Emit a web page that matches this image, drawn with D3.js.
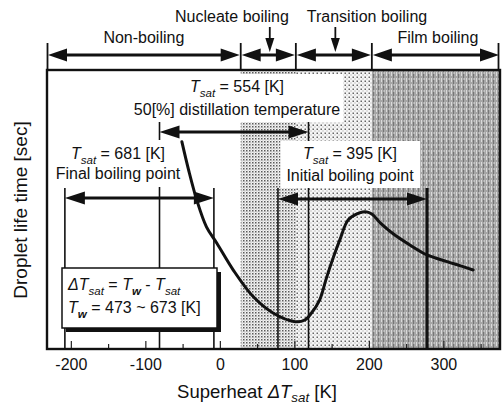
<!DOCTYPE html>
<html>
<head>
<meta charset="utf-8">
<script src="https://cdn.jsdelivr.net/npm/d3@7"></script>
<style>
  body { margin: 0; background: #fff; }
  svg { display: block; }
  text { font-family: "Liberation Sans", Arial, Helvetica, sans-serif; fill: #111; }
</style>
</head>
<body>
<svg id="chart" width="503" height="405"></svg>
<script>
// Droplet life time curve: superheat (K) and relative life time (axis carries no scale)
const superheat = [-51, -42, -31, -18, -4, 18, 45, 72, 101, 114, 123, 134, 143, 152, 161, 172, 184, 195, 204, 216, 233, 255, 278, 305, 322, 340];
const lifeTime  = [0.743, 0.642, 0.534, 0.438, 0.379, 0.283, 0.187, 0.128, 0.098, 0.104, 0.129, 0.176, 0.254, 0.326, 0.391, 0.462, 0.484, 0.492, 0.484, 0.450, 0.412, 0.373, 0.337, 0.313, 0.299, 0.283];

// Boiling regimes and their superheat boundaries (outer bounds = axis range)
const regimeNames = ["Non-boiling", "Nucleate boiling", "Transition boiling", "Film boiling"];
const regimeEdges = [-232, 28, 102, 204, 376];

// Wall temperature range and fuel saturation temperatures (K)
const wallRange = [473, 673];
const tsatValues = [554, 681, 395];
const tsatNames = ["50[%] distillation temperature", "Final boiling point", "Initial boiling point"];

// Axis ticks
const majorTicks = [-200, -100, 0, 100, 200, 300];
const minorTicks = [-150, -50, 50, 150, 250, 350];

const plot = { left: 47, right: 500, top: 70, bottom: 349 };
const FONT = 16;

const svg = d3.select("#chart");
const x = d3.scaleLinear().domain([regimeEdges[0], regimeEdges[regimeEdges.length - 1]]).range([plot.left, plot.right]);
const y = d3.scaleLinear().domain([0, 1]).range([plot.bottom, plot.top]);

// ---------- halftone fills for the regime zones ----------
const defs = svg.append("defs");
const pDense = defs.append("pattern").attr("id", "dense").attr("width", 3).attr("height", 3).attr("patternUnits", "userSpaceOnUse");
pDense.append("rect").attr("width", 3).attr("height", 3).attr("fill", "#f4f4f4");
pDense.append("rect").attr("x", 0).attr("y", 0).attr("width", 1.5).attr("height", 1.5).attr("fill", "#5a5a5a");
pDense.append("rect").attr("x", 1.5).attr("y", 1.5).attr("width", 1).attr("height", 1).attr("fill", "#a0a0a0");

const pSparse = defs.append("pattern").attr("id", "sparse").attr("width", 4).attr("height", 4).attr("patternUnits", "userSpaceOnUse");
pSparse.append("rect").attr("width", 4).attr("height", 4).attr("fill", "#f6f6f6");
pSparse.append("rect").attr("x", 0.5).attr("y", 0.5).attr("width", 1.5).attr("height", 1.5).attr("fill", "#666");
pSparse.append("rect").attr("x", 2.5).attr("y", 2.5).attr("width", 1).attr("height", 1).attr("fill", "#999");

const pDark = defs.append("pattern").attr("id", "dark").attr("width", 5).attr("height", 6).attr("patternUnits", "userSpaceOnUse");
pDark.append("rect").attr("width", 5).attr("height", 6).attr("fill", "#a6a6a6");
pDark.append("rect").attr("x", 1).attr("y", 0).attr("width", 1).attr("height", 4).attr("fill", "#dadada");
pDark.append("rect").attr("x", 3).attr("y", 2).attr("width", 1).attr("height", 4).attr("fill", "#767676");
pDark.append("rect").attr("x", 4).attr("y", 0).attr("width", 1).attr("height", 2).attr("fill", "#c4c4c4");

const zoneFills = [null, "url(#dense)", "url(#sparse)", "url(#dark)"];
svg.append("g").selectAll("rect")
  .data(regimeNames.map((n, i) => ({ n, a: regimeEdges[i], b: regimeEdges[i + 1], f: zoneFills[i] })).filter(d => d.f))
  .join("rect")
  .attr("x", d => x(d.a)).attr("width", d => x(d.b) - x(d.a))
  .attr("y", plot.top).attr("height", plot.bottom - plot.top)
  .attr("fill", d => d.f);

// ---------- ticks along the bottom, pointing inward ----------
const axisG = svg.append("g").attr("transform", `translate(0,${plot.bottom})`);
axisG.call(d3.axisBottom(x).tickValues(majorTicks).tickSizeInner(-8).tickSizeOuter(0).tickPadding(10).tickFormat(d3.format("d")));
axisG.select(".domain").remove();
axisG.selectAll(".tick line").attr("stroke", "#222").attr("stroke-width", 1.2);
axisG.selectAll(".tick text").attr("font-size", FONT).attr("fill", "#111")
  .style("font-family", '"Liberation Sans", Arial, sans-serif').text(d => d < 0 ? "-" + Math.abs(d) : d);
const minorG = svg.append("g").attr("transform", `translate(0,${plot.bottom})`);
minorG.call(d3.axisBottom(x).tickValues(minorTicks).tickSizeInner(-5).tickSizeOuter(0).tickFormat(""));
minorG.select(".domain").remove();
minorG.selectAll(".tick line").attr("stroke", "#222").attr("stroke-width", 1.2);

// ---------- helpers ----------
function richText(g, px, py, parts, size, anchor, shiftEm) {
  const t = g.append("text").attr("x", px).attr("y", py).attr("font-size", size).attr("text-anchor", anchor || "middle");
  const shift = size * (shiftEm || 0.3);
  let inSub = false;
  parts.forEach(p => {
    const s = t.append("tspan").text(p.t);
    if (p.i) s.attr("font-style", "italic");
    if (p.b) s.attr("font-weight", "bold");
    if (p.sub) s.attr("font-size", size * 0.72);
    if (p.sub && !inSub) s.attr("dy", shift);
    if (!p.sub && inSub) s.attr("dy", -shift);
    inSub = !!p.sub;
  });
  return t;
}

function hArrow(g, x1, x2, yy, o = {}) {
  const L = o.len || 20, hw = o.half || 6.5, sw = o.sw || 3;
  g.append("line").attr("x1", x1 + L * 0.5).attr("x2", x2 - L * 0.5).attr("y1", yy).attr("y2", yy)
    .attr("stroke", "#111").attr("stroke-width", sw);
  g.append("path").attr("d", `M${x1},${yy} L${x1 + L},${yy - hw} L${x1 + L},${yy + hw} Z`).attr("fill", "#111");
  g.append("path").attr("d", `M${x2},${yy} L${x2 - L},${yy - hw} L${x2 - L},${yy + hw} Z`).attr("fill", "#111");
}

function vLine(g, px, y1, y2, sw) {
  g.append("line").attr("x1", px).attr("x2", px).attr("y1", y1).attr("y2", y2)
    .attr("stroke", "#111").attr("stroke-width", sw || 1.6);
}

// ---------- superheat spans of each fuel fraction: ΔTsat = Tw - Tsat ----------
const spans = tsatValues.map((ts, i) => ({ ts, name: tsatNames[i], lo: wallRange[0] - ts, hi: wallRange[1] - ts }));
// layout of the three spans: arrow level, label lines, label centre
const spanLayout = [
  { arrowY: 132, barTop: 122, line1Y: 92, line2Y: 115, cx: 237, pad: [3, 4] },
  { arrowY: 198, barTop: 188, line1Y: 159, line2Y: 179, cx: 118, pad: [4, 5] },
  { arrowY: 199, barTop: 188, line1Y: 159, line2Y: 181, cx: 350, pad: [6, 4] }
];

const bars = svg.append("g");
spans.forEach((s, i) => {
  const L = spanLayout[i];
  vLine(bars, x(s.lo), L.barTop, plot.bottom, 1.6);
  vLine(bars, x(s.hi), L.barTop, plot.bottom, i === 2 ? 3 : 1.6);
});

const labels = svg.append("g");
spans.forEach((s, i) => {
  const L = spanLayout[i];
  const lg = labels.append("g");
  const bg = lg.append("rect").attr("fill", "#fff");
  richText(lg, L.cx, L.line1Y, [{ t: "T", i: 1 }, { t: "sat", i: 1, sub: 1 }, { t: " = " + s.ts + " [K]" }], FONT);
  lg.append("text").attr("x", L.cx).attr("y", L.line2Y).attr("font-size", FONT).attr("text-anchor", "middle").text(s.name);
  const bb = lg.node().getBBox();
  bg.attr("x", bb.x - L.pad[0]).attr("y", bb.y - L.pad[1]).attr("width", bb.width + 2 * L.pad[0]).attr("height", bb.height + 2 * L.pad[1]);
});

const arrows = svg.append("g");
spans.forEach((s, i) => hArrow(arrows, x(s.lo), x(s.hi), spanLayout[i].arrowY, { sw: 3.2, len: 20, half: 6.5 }));

// ---------- droplet life time curve ----------
const line = d3.line().x((d, i) => x(superheat[i])).y(d => y(d)).curve(d3.curveCatmullRom.alpha(0.5));
svg.append("path").attr("d", line(lifeTime)).attr("fill", "none")
  .attr("stroke", "#111").attr("stroke-width", 3).attr("stroke-linecap", "round").attr("stroke-linejoin", "round");

// ---------- definition box ----------
const box = { x: 62, y: 268, w: 155, h: 60 };
const boxG = svg.append("g");
boxG.append("rect").attr("x", box.x + 4).attr("y", box.y + 4).attr("width", box.w).attr("height", box.h).attr("fill", "#111");
boxG.append("rect").attr("x", box.x).attr("y", box.y).attr("width", box.w).attr("height", box.h)
  .attr("fill", "#fff").attr("stroke", "#111").attr("stroke-width", 1.5);
richText(boxG, box.x + 6, box.y + 22, [
  { t: "Δ", i: 1 }, { t: "T", i: 1 }, { t: "sat", i: 1, sub: 1 }, { t: " = " }, { t: "T", i: 1 }, { t: "w", i: 1, b: 1, sub: 1 },
  { t: " - " }, { t: "T", i: 1 }, { t: "sat", i: 1, sub: 1 }
], FONT, "start");
richText(boxG, box.x + 6, box.y + 45, [
  { t: "T", i: 1 }, { t: "w", i: 1, b: 1, sub: 1 }, { t: " = " + wallRange[0] + " ~ " + wallRange[1] + " [K]" }
], FONT, "start");

// ---------- plot frame ----------
svg.append("rect").attr("x", plot.left).attr("y", plot.top).attr("width", plot.right - plot.left).attr("height", plot.bottom - plot.top)
  .attr("fill", "none").attr("stroke", "#111").attr("stroke-width", 2.4);

// ---------- boiling regime band above the plot ----------
const band = svg.append("g");
const bandY = 55, bandTop = 43;
regimeEdges.forEach(e => vLine(band, Math.min(Math.max(x(e), plot.left + 0.5), plot.right - 1.5), bandTop, plot.top, 1.8));
regimeNames.forEach((n, i) => hArrow(band, x(regimeEdges[i]) + 1, x(regimeEdges[i + 1]) - 1, bandY, { sw: 3, len: 19, half: 6.5 }));

// outer regimes labelled directly above their arrows, inner ones with pointer arrows
const labelLow = 43, labelHigh = 22;
[0, 3].forEach(i => {
  band.append("text").attr("x", (x(regimeEdges[i]) + x(regimeEdges[i + 1])) / 2 + (i === 0 ? 0 : 2))
    .attr("y", labelLow).attr("font-size", FONT).attr("text-anchor", "middle").text(regimeNames[i]);
});
const innerLabelX = { 1: 232, 2: 367 };
[1, 2].forEach(i => {
  const cx = (x(regimeEdges[i]) + x(regimeEdges[i + 1])) / 2 + 1.5;
  band.append("text").attr("x", innerLabelX[i]).attr("y", labelHigh).attr("font-size", FONT).attr("text-anchor", "middle").text(regimeNames[i]);
  vLine(band, cx, 27, 44, 1.8);
  band.append("path").attr("d", `M${cx - 4.5},${38} L${cx + 4.5},${38} L${cx},${52} Z`).attr("fill", "#111");
});

// ---------- axis titles ----------
richText(svg, 257, 398, [
  { t: "Superheat  " }, { t: "Δ", i: 1 }, { t: "T", i: 1 }, { t: "sat", i: 1, sub: 1 }, { t: " [K]" }
], 18.5, "middle", 0.2);
svg.append("text").attr("transform", "translate(27,210) rotate(-90)").attr("font-size", 19)
  .attr("text-anchor", "middle").text("Droplet life time [sec]");
</script>
</body>
</html>
